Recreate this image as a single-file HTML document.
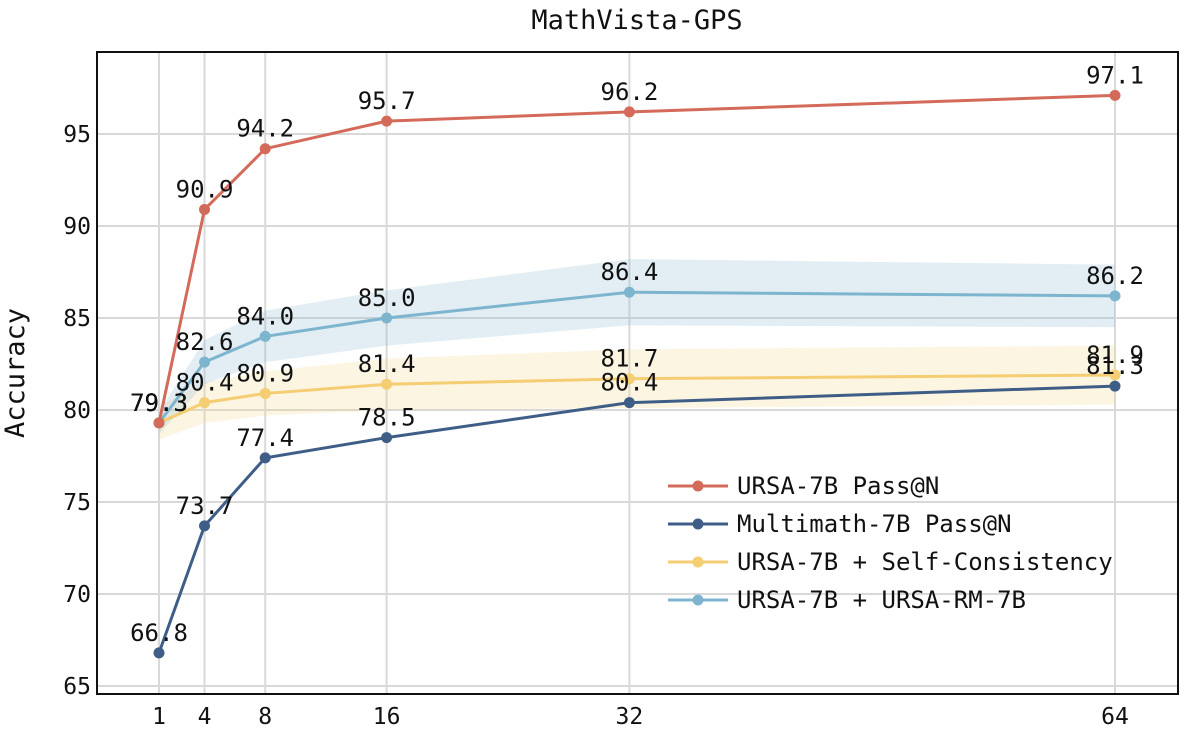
<!DOCTYPE html>
<html><head><meta charset="utf-8"><style>
body{margin:0;background:#fff}
text{font-family:"DejaVu Sans Mono","Liberation Mono",monospace;fill:#111}
</style></head><body>
<svg id="chart" width="1188" height="734" xmlns="http://www.w3.org/2000/svg">
<text x="637" y="29" font-size="27" text-anchor="middle">MathVista-GPS</text>
<text transform="translate(24,373) rotate(-90)" font-size="27" text-anchor="middle">Accuracy</text>
<g id="grid"></g><g id="bands"></g><g id="series"></g><g id="labels"></g><g id="legend"></g>
<rect x="97" y="52" width="1081" height="642" fill="none" stroke="#111" stroke-width="2"/>
</svg>
<script>
const xCats=[1,4,8,16,32,64];
const yTicks=[65,70,75,80,85,90,95];
const ursaPass=[79.3,90.9,94.2,95.7,96.2,97.1];
const multimath=[66.8,73.7,77.4,78.5,80.4,81.3];
const selfCons=[79.3,80.4,80.9,81.4,81.7,81.9];
const rm7b=[79.3,82.6,84.0,85.0,86.4,86.2];
const selfConsBand=[0.9,1.1,1.2,1.4,1.6,1.6];
const rm7bBand=[0.6,1.2,1.4,1.5,1.8,1.7];
const seriesNames=["URSA-7B Pass@N","Multimath-7B Pass@N","URSA-7B + Self-Consistency","URSA-7B + URSA-RM-7B"];
const NS="http://www.w3.org/2000/svg";
const X=v=>159+(v-1)*(1115-159)/63;
const Y=v=>686-(v-65)*18.4;
function mk(tag,attrs,parent,txt){const e=document.createElementNS(NS,tag);for(const k in attrs)e.setAttribute(k,attrs[k]);if(txt!==undefined)e.textContent=txt;document.getElementById(parent).appendChild(e);return e;}
xCats.forEach(c=>{
 const l=mk('line',{x1:X(c),x2:X(c),y1:53,y2:693,stroke:'#d9d9d9','stroke-width':2},'grid');
 
 
 const t=mk('text',{x:X(c),y:724,'font-size':23,'text-anchor':'middle'},'grid',String(c));
 
 
});
yTicks.forEach(v=>{
 const l=mk('line',{x1:98,x2:1177,y1:Y(v),y2:Y(v),stroke:'#d9d9d9','stroke-width':2},'grid');
 
 
 const t=mk('text',{x:91,y:Y(v)+8,'font-size':23,'text-anchor':'end'},'grid',String(v));
 
 
});
function band(vals,w,color,name){
 let d='M'+xCats.map((c,i)=>X(c)+','+Y(vals[i]+w[i])).join('L');
 d+='L'+xCats.slice().reverse().map((c,j)=>{const i=xCats.length-1-j;return X(c)+','+Y(vals[i]-w[i]);}).join('L')+'Z';
 const p=mk('path',{d:d,fill:color,opacity:0.25},'bands');
 
 
}
band(selfCons,selfConsBand,'#f5d68a','self-consistency-band');
band(rm7b,rm7bBand,'#8fbcd4','rm7b-band');
const cfg=[[multimath,'#3f5e87','multimath-line'],[selfCons,'#f5cd72','self-consistency-line'],[rm7b,'#7db5cf','rm7b-line'],[ursaPass,'#d46a5a','ursa-pass-line']];
cfg.forEach(([vals,col,name])=>{
 const pl=mk('polyline',{points:xCats.map((c,i)=>X(c)+','+Y(vals[i])).join(' '),fill:'none',stroke:col,'stroke-width':3},'series');
 
 
 vals.forEach((v,i)=>{
  const c=mk('circle',{cx:X(xCats[i]),cy:Y(v),r:5.5,fill:col},'series');
  
  
  const t=mk('text',{x:X(xCats[i]),y:Y(v)-12,'font-size':24,'text-anchor':'middle'},'labels',v.toFixed(1));
  
  
 });
});
const legCols=['#d46a5a','#3f5e87','#f5cd72','#7db5cf'];
seriesNames.forEach((n,i)=>{
 const y=486+i*38;
 const l=mk('line',{x1:668,x2:728,y1:y,y2:y,stroke:legCols[i],'stroke-width':3},'legend');
 
 
 const c=mk('circle',{cx:698,cy:y,r:5.5,fill:legCols[i]},'legend');
 
 
 const t=mk('text',{x:737,y:y+8,'font-size':24},'legend',n);
 
 
});
</script>
</body></html>
